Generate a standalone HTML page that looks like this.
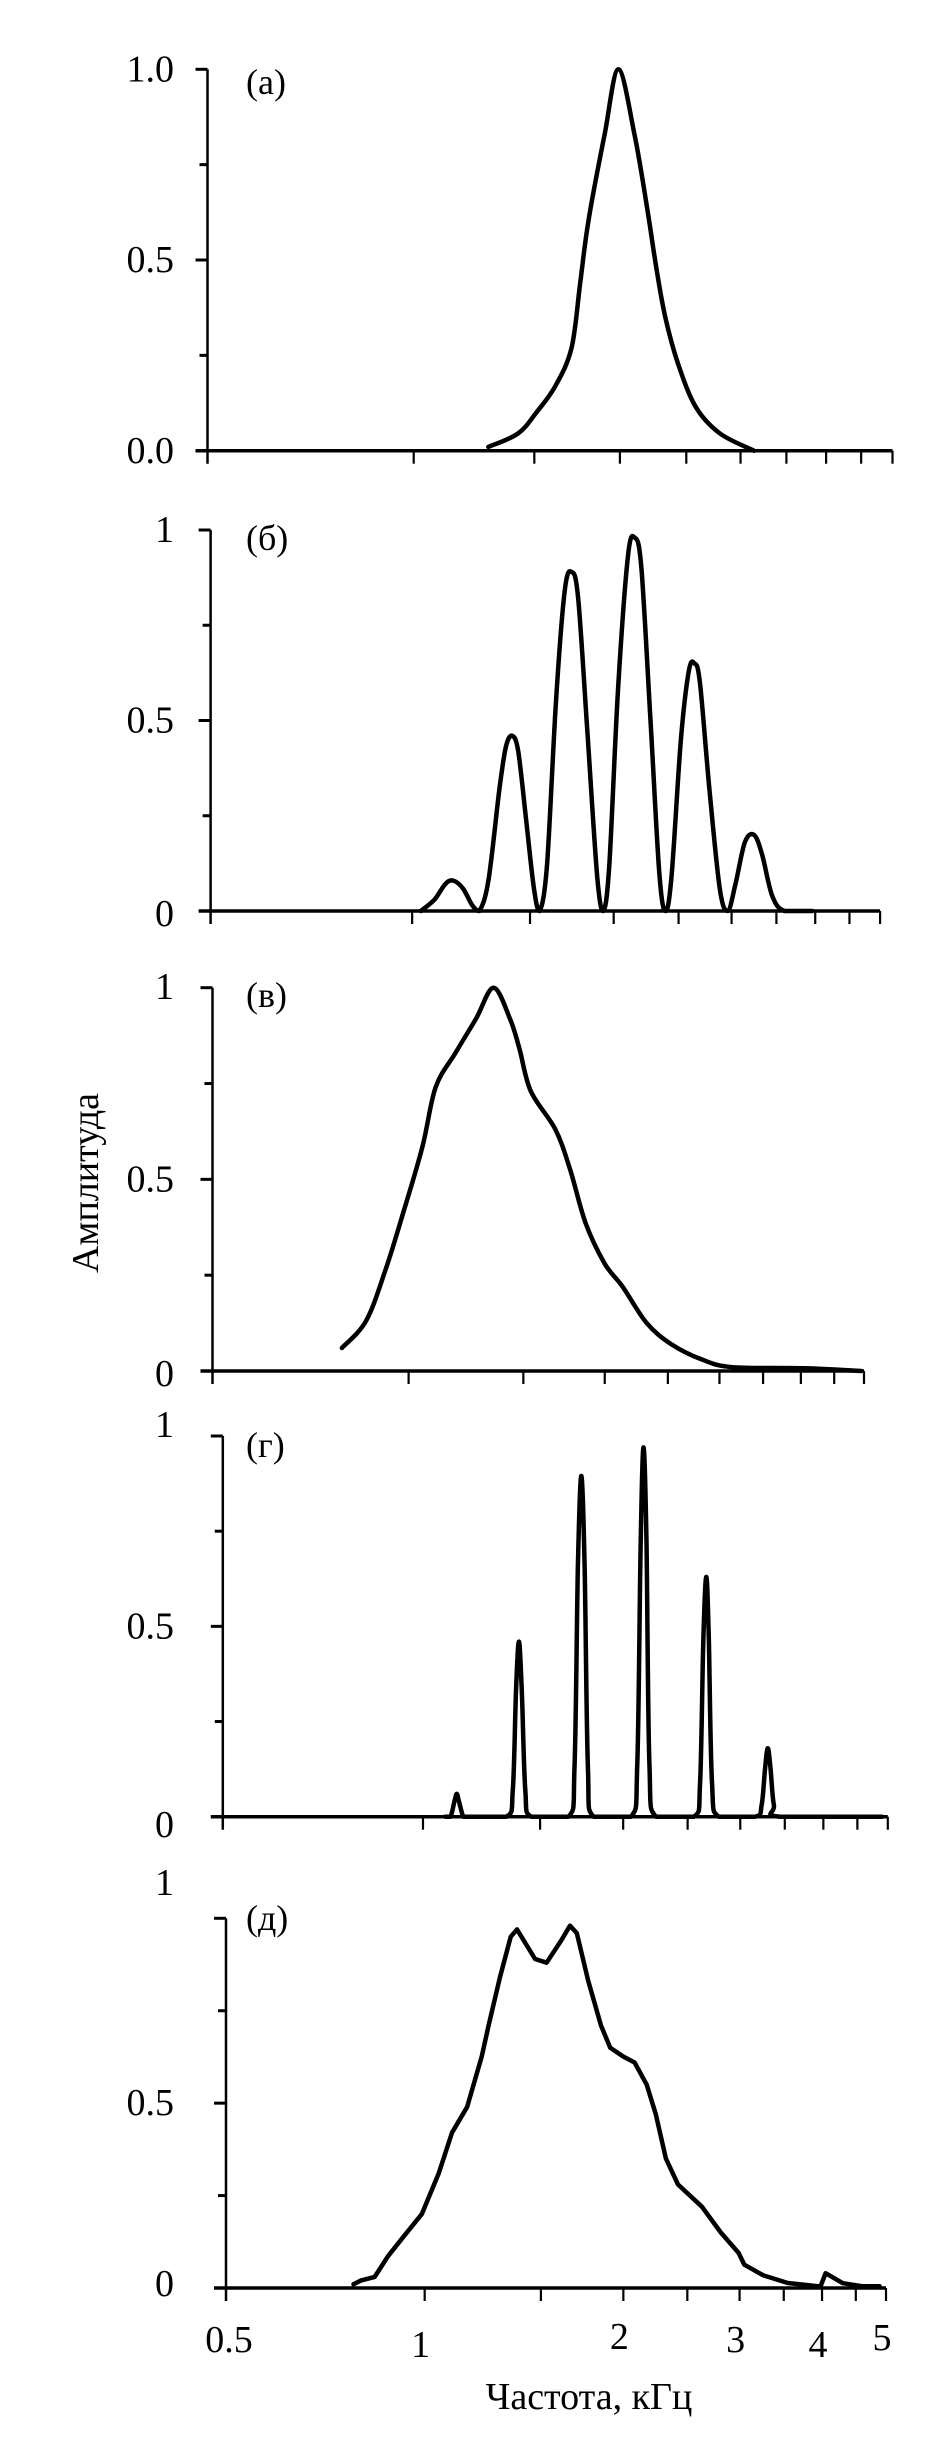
<!DOCTYPE html>
<html><head><meta charset="utf-8">
<style>
html,body{margin:0;padding:0;background:#fff;}
svg{display:block;}
text{font-family:"Liberation Serif","DejaVu Serif",serif;fill:#000;}
</style></head>
<body>
<svg id="chart" width="946" height="2445" viewBox="0 0 946 2445" xmlns="http://www.w3.org/2000/svg"></svg>
<script>
// ---- data (frequency in kHz, amplitude normalized) ----
const xTickValues = [1, 1.5, 2, 2.5, 3, 3.5, 4, 4.5, 5];
const xTickLabelValues = [0.5, 1, 2, 3, 4, 5];
const xTickLabels = ["0.5", "1", "2", "3", "4", "5"];
const panelLabels = ["(а)", "(б)", "(в)", "(г)", "(д)"];
const yTickLabelsA = ["1.0", "0.5", "0.0"];
const yTickLabelsOther = ["1", "0.5", "0"];

const freqA = [1.285, 1.42, 1.51, 1.61, 1.70, 1.75, 1.80, 1.90, 1.99, 2.10, 2.19, 2.26, 2.33, 2.43, 2.58, 2.80, 3.14];
const ampA  = [0.01, 0.045, 0.10, 0.17, 0.27, 0.44, 0.605, 0.83, 1.0, 0.83, 0.64, 0.48, 0.35, 0.23, 0.115, 0.045, 0.0];

const freqB = [1.03, 1.08, 1.12, 1.15, 1.19, 1.23, 1.26, 1.30, 1.35, 1.38, 1.41, 1.44, 1.48, 1.52, 1.55, 1.59, 1.64, 1.69, 1.73, 1.77, 1.83, 1.89, 1.93, 1.97, 2.03, 2.10, 2.15, 2.20, 2.27, 2.34, 2.39, 2.44, 2.52, 2.59, 2.64, 2.69, 2.78, 2.88, 2.96, 3.04, 3.14, 3.24, 3.33, 3.45, 3.60, 3.96];
const ampB  = [0.0, 0.03, 0.07, 0.08, 0.06, 0.015, 0.0, 0.08, 0.32, 0.43, 0.46, 0.42, 0.24, 0.06, 0.0, 0.12, 0.55, 0.84, 0.89, 0.82, 0.45, 0.09, 0.0, 0.12, 0.58, 0.93, 0.98, 0.90, 0.50, 0.10, 0.0, 0.09, 0.45, 0.63, 0.65, 0.60, 0.32, 0.06, 0.0, 0.07, 0.18, 0.20, 0.15, 0.04, 0.0, 0.0];

const freqC = [0.79, 0.86, 0.92, 0.98, 1.05, 1.10, 1.18, 1.27, 1.35, 1.43, 1.48, 1.54, 1.68, 1.77, 1.87, 2.00, 2.13, 2.32, 2.53, 2.82, 3.14, 4.07, 4.95];
const ampC  = [0.06, 0.13, 0.26, 0.41, 0.585, 0.74, 0.83, 0.92, 1.0, 0.92, 0.84, 0.73, 0.63, 0.525, 0.385, 0.28, 0.22, 0.125, 0.07, 0.03, 0.01, 0.007, 0.0];

const freqD = [1.08, 1.10, 1.115, 1.124, 1.133, 1.15, 1.17,
               1.335, 1.365, 1.38, 1.394, 1.408, 1.425, 1.455,
               1.655, 1.69, 1.71, 1.73, 1.75, 1.77, 1.805,
               2.055, 2.10, 2.125, 2.146, 2.168, 2.19, 2.24,
               2.555, 2.61, 2.64, 2.667, 2.69, 2.72, 2.785,
               3.16, 3.23, 3.27, 3.30, 3.33, 3.37, 3.44, 4.9];
const ampD  = [0, 0, 0.04, 0.06, 0.04, 0, 0,
               0, 0.07, 0.33, 0.46, 0.33, 0.07, 0,
               0, 0.13, 0.66, 0.895, 0.66, 0.13, 0,
               0, 0.14, 0.72, 0.97, 0.72, 0.14, 0,
               0, 0.09, 0.47, 0.63, 0.47, 0.09, 0,
               0, 0.03, 0.13, 0.18, 0.13, 0.03, 0, 0];

const freqE = [0.78, 0.80, 0.84, 0.88, 0.93, 0.99, 1.05, 1.10, 1.16, 1.22, 1.25, 1.30, 1.35, 1.38, 1.47, 1.53, 1.61, 1.66, 1.70, 1.77, 1.85, 1.91, 2.00, 2.08, 2.17, 2.24, 2.32, 2.42, 2.63, 2.81, 2.99, 3.05, 3.26, 3.55, 3.94, 3.98, 4.05, 4.30, 4.60, 4.89];
const ampE  = [0.01, 0.02, 0.03, 0.086, 0.14, 0.20, 0.31, 0.42, 0.49, 0.626, 0.71, 0.84, 0.95, 0.97, 0.89, 0.88, 0.94, 0.98, 0.96, 0.83, 0.71, 0.65, 0.626, 0.61, 0.55, 0.47, 0.35, 0.28, 0.22, 0.15, 0.095, 0.063, 0.034, 0.0135, 0.005, 0.005, 0.04, 0.013, 0.005, 0.005];

// ---- layout (pixel geometry only) ----
const panels = [
  {name:"a", x0:207.5, dec:685, y1:69.3, y0:450.7, fx:freqA, fy:ampA, yl:yTickLabelsA, oneY:69.3, zeroY:451, lab:82, smooth:true},
  {name:"b", x0:210.6, dec:669.5, y1:530, y0:911, fx:freqB, fy:ampB, yl:yTickLabelsOther, oneY:530, zeroY:914, lab:538, smooth:true},
  {name:"c", x0:212.5, dec:651.5, y1:987.7, y0:1371, fx:freqC, fy:ampC, yl:yTickLabelsOther, oneY:987, zeroY:1374, lab:995, smooth:true},
  {name:"d", x0:222.8, dec:665, y1:1436, y0:1816.7, fx:freqD, fy:ampD, yl:yTickLabelsOther, oneY:1425, zeroY:1825, lab:1445, smooth:true},
  {name:"e", x0:226, dec:660, y1:1918.3, y0:2288, fx:freqE, fy:ampE, yl:yTickLabelsOther, oneY:1883, zeroY:2284, lab:1918, smooth:false}
];
const NS = "http://www.w3.org/2000/svg";
const svg = document.getElementById("chart");
function mk(tag, attrs, parent){
  const e = document.createElementNS(NS, tag);
  for (const k in attrs) e.setAttribute(k, attrs[k]);
  (parent||svg).appendChild(e);
  return e;
}
function smoothPath(pts, yMax){
  let d = "M" + pts[0][0].toFixed(1) + "," + pts[0][1].toFixed(1);
  for (let i = 0; i < pts.length - 1; i++) {
    const p0 = pts[Math.max(0, i - 1)], p1 = pts[i], p2 = pts[i + 1], p3 = pts[Math.min(pts.length - 1, i + 2)];
    const c1x = p1[0] + (p2[0] - p0[0]) / 6, c1y = Math.min(yMax, p1[1] + (p2[1] - p0[1]) / 6);
    const c2x = p2[0] - (p3[0] - p1[0]) / 6, c2y = Math.min(yMax, p2[1] - (p3[1] - p1[1]) / 6);
    d += " C" + c1x.toFixed(1) + "," + c1y.toFixed(1) + " " + c2x.toFixed(1) + "," + c2y.toFixed(1) + " " + p2[0].toFixed(1) + "," + p2[1].toFixed(1);
  }
  return d;
}
panels.forEach((p, i) => {
  const xs = f => p.x0 + p.dec * Math.log10(f / 0.5);
  const ys = a => p.y0 - (p.y0 - p.y1) * a;
  const g = mk("g", {});
  
  
  const xEnd = xs(5);
  const ya = mk("line", {x1:p.x0, y1:p.y1, x2:p.x0, y2:p.y0 + 13, stroke:"#000", "stroke-width":2.5}, g);
  
  
  const xa = mk("line", {x1:p.x0 - 12, y1:p.y0, x2:xEnd, y2:p.y0, stroke:"#000", "stroke-width":3.5}, g);
  
  
  [0.25, 0.5, 0.75, 1].forEach(v => {
    const len = (v === 0.5 || v === 1) ? 12 : 8;
    const t = mk("line", {x1:p.x0 - len, y1:ys(v), x2:p.x0, y2:ys(v), stroke:"#000", "stroke-width":3}, g);
    
    
  });
  xTickValues.forEach(v => {
    const t = mk("line", {x1:xs(v), y1:p.y0, x2:xs(v), y2:p.y0 + 13, stroke:"#000", "stroke-width":2.2}, g);
    
    
  });
  const ly = [p.oneY, ys(0.5), p.zeroY];
  p.yl.forEach((s, k) => {
    const t = mk("text", {x:174, y:ly[k], "font-size":38, "text-anchor":"end", "dominant-baseline":"central"}, g);
    t.textContent = s;
    
    
  });
  const pl = mk("text", {x:246, y:p.lab, "font-size":36, "dominant-baseline":"central"}, g);
  pl.textContent = panelLabels[i];
  
  
  const pts = p.fx.map((f, k) => [xs(f), ys(p.fy[k])]);
  const d = p.smooth ? smoothPath(pts, p.y0) : pts.map((q, k) => (k ? "L" : "M") + q[0].toFixed(1) + "," + q[1].toFixed(1)).join(" ");
  const c = mk("path", {d:d, fill:"none", stroke:"#000", "stroke-width":4.5, "stroke-linejoin":"round", "stroke-linecap":"round"}, g);
  
  
});
const pe = panels[4];
const xsE = f => pe.x0 + pe.dec * Math.log10(f / 0.5);
const labYOff = [2340, 2345, 2337, 2340, 2345, 2338];
xTickLabelValues.forEach((v, k) => {
  const t = mk("text", {x:xsE(v) + (k === 0 ? 3 : -4), y:labYOff[k], "font-size":38, "text-anchor":"middle", "dominant-baseline":"central"});
  t.textContent = xTickLabels[k];
  
  
});
const xt = mk("text", {x:589, y:2397, "font-size":38, "text-anchor":"middle", "dominant-baseline":"central"});
xt.textContent = "Частота, кГц";


const yt = mk("text", {x:0, y:0, "font-size":38, "text-anchor":"middle", "dominant-baseline":"central", transform:"translate(86,1183) rotate(-90)"});
yt.textContent = "Амплитуда";


</script>
</body></html>
